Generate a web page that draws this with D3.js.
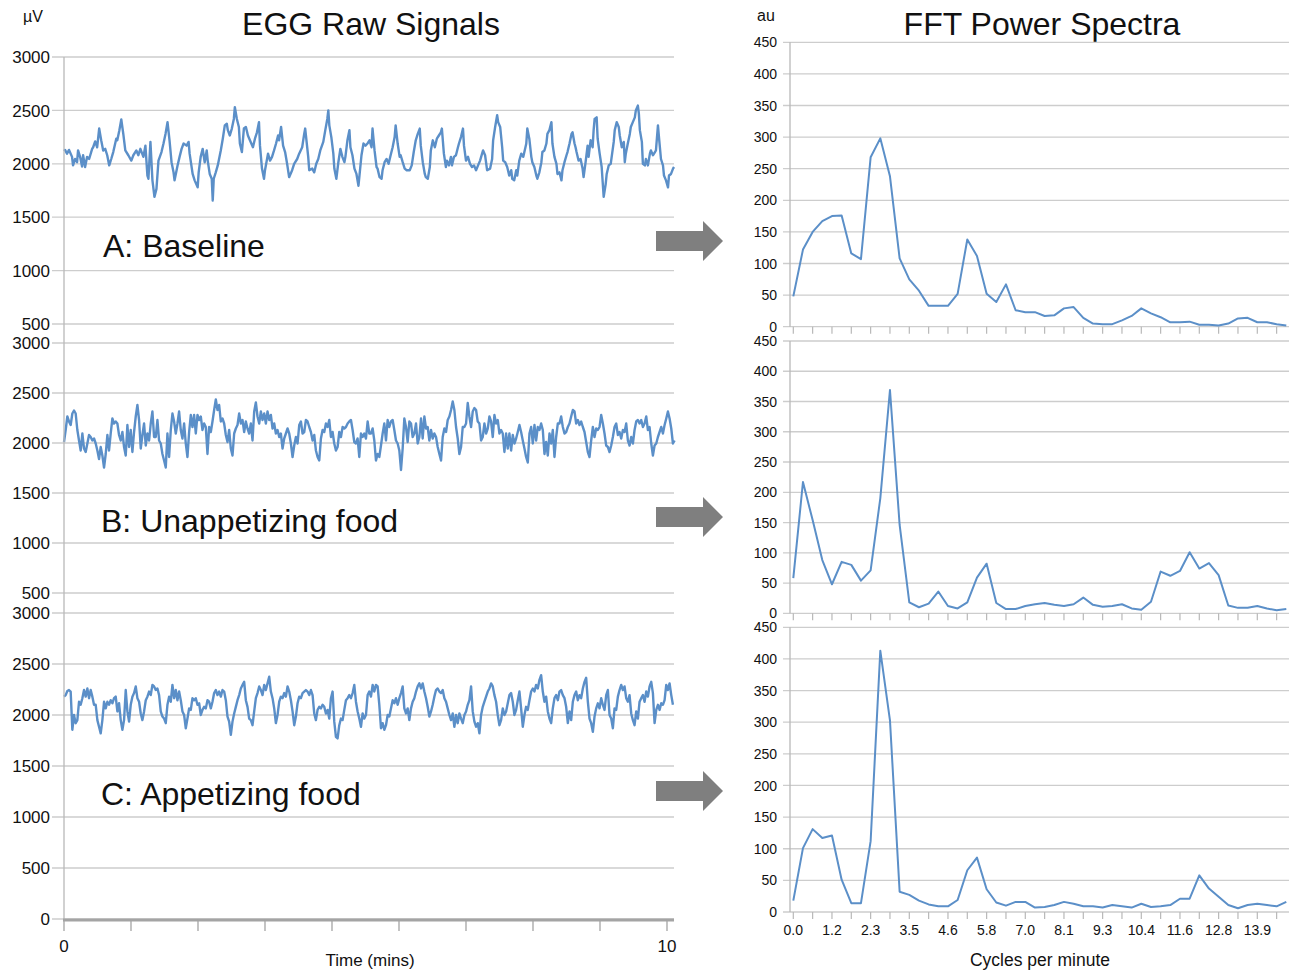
<!DOCTYPE html>
<html><head><meta charset="utf-8">
<script src="https://cdn.jsdelivr.net/npm/d3@7"></script>
<style>
body{margin:0;background:#fff}
svg{display:block}
text{font-family:"Liberation Sans",Arial,sans-serif;fill:#111}
</style>
</head><body>
<svg id="c" width="1289" height="972"></svg>
<script>
// ---------------- DATA ----------------
const titles = ["EGG Raw Signals", "FFT Power Spectra"];
const panelLabels = ["A: Baseline", "B: Unappetizing food", "C: Appetizing food"];
const rawYTicksAB = [500, 1000, 1500, 2000, 2500, 3000];
const rawYTicksC = [0, 500, 1000, 1500, 2000, 2500, 3000];
const timeTickLabels = ["0", "10"];          // minutes (0 and 10)
const fftYTicks = [0, 50, 100, 150, 200, 250, 300, 350, 400, 450];
const fftTickLabels = ["0.0","1.2","2.3","3.5","4.6","5.8","7.0","8.1","9.3","10.4","11.6","12.8","13.9"];
const sampleIntervalBC = 1.66; // seconds between read samples (B, C)

// A: [seconds, µV]
const rawA = [[0,2120],[1,2130],[3,2095],[5,2130],[8,2065],[9,1985],[11,2045],[13,2015],[14,2125],[16,2065],[18,1975],[19,2080],[21,1970],[23,2065],[25,2045],[28,2140],[29,2155],[31,2210],[33,2155],[35,2330],[37,2220],[39,2125],[41,2140],[43,2080],[45,1985],[47,2045],[49,2110],[52,2235],[53,2220],[55,2310],[57,2415],[59,2280],[61,2125],[64,2080],[67,2030],[69,2080],[72,2125],[74,2080],[76,2140],[79,2065],[81,2170],[83,1890],[84,1860],[86,2205],[88,1845],[90,1690],[92,1765],[94,2030],[97,2110],[99,2190],[101,2280],[103,2390],[105,2220],[107,2015],[109,1920],[110,1845],[113,1985],[115,2065],[117,2140],[119,2190],[122,2170],[124,2205],[125,2095],[128,1905],[130,1845],[133,1780],[134,1920],[136,2065],[138,2140],[140,2015],[142,2125],[143,2030],[145,1905],[147,1860],[148,1655],[149,1860],[151,1920],[153,1985],[156,2125],[158,2235],[160,2360],[162,2375],[163,2315],[165,2265],[167,2330],[169,2420],[170,2530],[172,2420],[174,2345],[175,2190],[177,2110],[179,2330],[181,2345],[183,2265],[185,2220],[188,2155],[190,2235],[192,2295],[194,2390],[195,2170],[197,1955],[199,1860],[200,1940],[203,2095],[205,2030],[207,2065],[209,2125],[211,2190],[213,2265],[214,2220],[216,2345],[218,2170],[220,2110],[222,2000],[224,1875],[227,1940],[229,2000],[232,2045],[234,2095],[237,2155],[239,2280],[240,2330],[243,2065],[244,1940],[247,1955],[249,1920],[251,2000],[253,2045],[255,2125],[258,2205],[260,2315],[262,2420],[263,2500],[264,2360],[266,2250],[268,2095],[269,1955],[271,1860],[273,2015],[275,2140],[277,2065],[279,2015],[280,2065],[282,2220],[284,2315],[285,2155],[287,2080],[289,1955],[291,1905],[293,1795],[294,1890],[296,2080],[298,2190],[300,2170],
[302,2190],[304,2220],[306,2155],[307,2330],[309,2125],[311,1970],[312,1955],[314,1875],[316,1860],[317,1940],[319,2015],[321,2045],[323,2000],[325,2080],[327,2155],[329,2250],[330,2360],[332,2190],[334,2065],[335,2080],[337,2015],[339,1955],[341,1940],[344,1940],[346,1985],[348,2110],[350,2220],[352,2280],[354,2330],[355,2170],[357,2015],[359,1905],[360,1875],[362,1860],[364,1970],[365,2125],[367,2220],[369,2155],[371,2235],[373,2265],[375,2295],[376,2330],[378,2095],[380,1970],[381,2030],[383,1985],[385,2065],[386,1985],[388,2065],[390,2080],[392,2155],[393,2190],[395,2250],[397,2330],[398,2170],[400,2030],[402,2065],[404,2000],[406,1970],[408,1985],[410,1940],[412,1985],[414,2030],[416,2095],[417,2125],[419,2080],[421,1940],[424,1955],[426,2045],[427,2220],[429,2345],[431,2455],[432,2390],[434,2345],[436,2155],[437,2030],[439,2015],[441,1970],[443,1890],[445,1940],[446,1860],[448,1845],[450,1940],[451,1890],[453,2030],[455,2095],[457,2065],[460,2190],[461,2330],[463,2235],[465,2065],[466,2015],[468,1970],[470,1890],[471,1860],[473,1920],[475,2015],[476,2110],[478,2125],[480,2190],[481,2280],[483,2315],[485,2390],[486,2190],[488,2065],[490,2000],[491,1905],[493,1920],[495,1845],[496,1940],[498,2015],[500,2080],[501,2110],[503,2190],[505,2280],[506,2295],[508,2190],[509,2155],[510,2110],[512,2030],[514,2045],[516,1955],[517,1875],[519,2015],[521,2170],[522,2065],[524,2220],[526,2155],[527,2315],[528,2420],[530,2435],[531,2235],[533,2095],[535,1970],[536,1830],[537,1690],[539,1810],[540,1905],[542,1985],[544,2000],[547,2205],[548,2315],[550,2390],[552,2345],[553,2265],[555,2155],[557,2205],[558,2015],[559,2095],[561,2190],[563,2280],[564,2345],[566,2390],[568,2435],[569,2500],[571,2545],[572,2470],[573,2315],[575,2205],[576,2000],[578,1985],[579,2045],[581,1985],[583,2095],[584,2125],[586,2080],[588,2110],[589,2125],[591,2360],[592,2250],[594,2045],[596,1985],[597,1890],[599,1845],[601,1780],[602,1890],[604,1905],[606,1955],[607,1970]];

// B, C: µV at regular sample interval
const rawB = [2010,2130,2265,2215,2180,2295,2325,2295,2130,2025,1925,2095,1945,1910,1995,2080,2060,2025,2045,1995,1925,1840,1960,1875,1755,1890,2080,1925,2095,2245,2195,2215,2195,2080,2025,2110,1960,1875,2180,1960,2130,1910,2110,2265,2380,2230,1945,2080,2195,1975,2095,2025,2195,2315,2060,2060,2230,2025,
1995,1890,1825,1755,2095,1860,2130,2295,2215,2095,2195,2315,2130,2045,2195,1995,1860,2110,2280,2160,2280,2095,2280,2230,2265,2130,2195,2160,1890,2160,2110,2215,2330,2435,2330,2380,2215,2245,2195,2080,2010,2130,1945,1875,2095,2145,2180,2295,2195,2230,2110,2215,2145,2095,2195,2025,2315,2405,2265,2195,2315,2230,2295,2195,2315,2230,2280,2145,2195,2095,2130,2060,2095,1945,2045,2095,2145,2095,1995,1860,1975,2060,1995,2180,2215,2095,2110,2230,2215,2160,2110,2025,2080,1925,1860,1825,2045,2130,2110,2195,2160,2230,2060,2110,1995,1925,1960,2110,2060,2160,2145,2160,2195,2215,2230,2130,2010,1995,2045,1860,2095,2060,2095,2045,2215,2095,
2095,2145,2025,1825,1890,1860,1975,2095,2195,2025,2230,2160,2215,2230,2130,2025,1995,1925,1730,1945,2245,2160,2010,2215,2195,2060,2095,2195,1995,2060,2245,2045,2265,2145,2160,2025,2130,2045,2095,2060,1960,1890,1825,2060,2145,2110,2230,2265,2330,2415,2330,2160,2045,1890,1960,2160,2160,2195,2400,2265,2160,2315,2350,2330,2215,2195,2025,2060,2195,2095,2145,2265,2215,2060,2280,2195,2230,2095,2130,2095,1910,2095,1945,2095,1925,2080,1995,2045,2110,2180,2110,2025,1945,1860,1805,2095,2160,1995,2180,2025,2160,2130,2195,2130,1890,2010,1875,2095,1995,2130,1860,2060,2195,2195,2265,2160,2095,2110,2160,2195,2265,2330,2315,2195,2230,2180,2215,2160,2110,2010,1910,1860,2025,2160,2060,2145,2130,2160,2280,2195,2095,1975,1960,1910,1975,2060,2160,2195,2080,2110,2045,2130,2110,2195,2025,1975,2060,1995,2130,2215,2230,2195,2230,2160,2195,2265,2130,2160,1995,1875,1975,1995,2060,2110,2160,2095,2180,2245,2315,2245,2145,1995,2025];

const rawC = [2180,2195,2235,2245,2230,1855,2000,1920,1950,2130,2100,2165,2245,2180,2260,2165,2245,2180,2100,2100,1950,1885,1820,1950,2130,2065,2130,2100,2145,2115,2165,2180,2035,2115,1950,1855,1950,2245,2035,1935,2100,2180,2215,2280,2165,2130,2015,1950,2035,2145,2180,2230,2195,2295,2280,2245,2260,2195,2035,1985,1965,1920,2100,2180,2130,2295,2165,2245,2145,2230,2145,2035,2000,1870,1965,2065,2050,2165,2145,2165,2100,2115,2000,2050,2080,2065,2145,2130,2065,2130,2215,2245,2195,2230,2180,2245,2230,2145,1985,1935,1805,1935,2015,2080,2145,2195,2260,2295,2325,2145,2080,1965,1950,1900,2035,2165,2215,2280,2245,2195,2295,2245,2310,2375,2230,2165,2065,1920,2000,2130,2180,2165,2215,2180,2280,2230,2145,2035,1900,1985,2115,2180,2165,2215,2230,2245,2230,2195,2245,2195,2015,1950,2050,2080,2065,2100,2080,2015,2050,1965,2165,2230,1935,1785,1770,1900,1965,1950,2050,2145,2165,2195,2165,2215,2295,2130,2035,1965,1885,2015,1965,2000,2195,
2230,2180,2295,2230,2295,2280,2100,1870,1920,1855,1900,2000,1985,2065,2145,2115,2165,2100,2165,2215,2280,2065,2015,2065,1950,2065,2130,2165,2230,2280,2310,2260,2310,2230,2165,2080,1985,2035,2100,2180,2245,2260,2230,2215,2245,2165,2130,2065,2000,1950,2015,1885,2000,1920,2015,1965,1920,2000,2035,2100,2145,2280,2035,1935,1885,1920,1820,2000,2080,2130,2180,2230,2260,2310,2280,2195,2130,2000,1900,1950,2065,2000,2035,2115,2195,2215,2130,2000,2050,2145,2230,2065,1885,2000,2080,2050,2145,2230,2260,2230,2295,2260,2345,2390,2230,2130,2180,2035,1965,1920,2065,2165,2195,2145,2230,2245,2195,2165,2080,1920,2035,1950,2130,2195,2230,2145,2195,2165,2260,2325,2365,2130,1965,1920,1835,1985,2065,2115,2065,2165,2100,2050,2195,2245,2000,1965,1870,2065,2050,2180,2245,2295,2245,2280,2165,2130,2195,2015,1950,1900,2035,1965,2130,2165,2195,2130,2230,2180,2280,2325,2215,1920,2050,2100,2050,2115,2100,2145,2295,2245,2310,2195,2100];

// FFT power (au), 52 frequency bins
const fftA = [48,122,150,167,175,176,116,107,268,298,238,108,75,57,33,33,33,52,138,112,52,39,67,26,23,23,17,18,29,31,14,5,4,4,10,17,29,21,15,7,7,8,3,3,2,5,13,14,7,7,4,2];
const fftB = [58,217,154,88,48,85,80,54,71,190,369,146,18,10,16,36,12,8,18,59,82,17,7,7,12,15,17,14,12,15,26,14,11,12,15,8,6,19,69,62,70,101,74,83,63,13,9,9,12,8,5,7];
const fftC = [18,101,131,117,121,51,14,14,112,413,303,32,27,18,12,9,9,19,66,86,36,15,10,16,16,7,8,11,16,13,9,9,7,11,9,7,13,8,9,11,21,21,58,37,24,11,6,11,13,11,9,16];

// ---------------- DRAW ----------------
const svg = d3.select('#c');
const LINE = '#5b8fc8', GRID = '#cdcdcd', AXIS = '#b8b8b8', ARROW = '#7f7f7f';

// Titles
svg.append('text').attr('x', 371).attr('y', 35).attr('text-anchor','middle').style('font-size','32px').text(titles[0]);
svg.append('text').attr('x', 1042).attr('y', 35).attr('text-anchor','middle').style('font-size','32px').text(titles[1]);
svg.append('text').attr('x', 33).attr('y', 22).attr('text-anchor','middle').style('font-size','16px').text('\u00b5V');
svg.append('text').attr('x', 766).attr('y', 21).attr('text-anchor','middle').style('font-size','16px').text('au');

// ---- Left raw signal panels ----
const xT = d3.scaleLinear().domain([0, 600]).range([64, 667]);
const toPairs = (arr) => arr.map((v, i) => [i * sampleIntervalBC, v]);
const leftPanels = [
  {data: rawA, y: d3.scaleLinear().domain([500,3000]).range([324,57]), ticks: rawYTicksAB, labelY: 257, arrowY: 241},
  {data: toPairs(rawB), y: d3.scaleLinear().domain([500,3000]).range([593,343]), ticks: rawYTicksAB, labelY: 532, arrowY: 517},
  {data: toPairs(rawC), y: d3.scaleLinear().domain([0,3000]).range([919,613]), ticks: rawYTicksC, labelY: 805, arrowY: 791}
];

leftPanels.forEach((p, k) => {
  const g = svg.append('g');
  g.selectAll('line.grid').data(p.ticks).enter().append('line')
    .attr('x1', 52).attr('x2', 674)
    .attr('y1', d => p.y(d)).attr('y2', d => p.y(d))
    .attr('stroke', GRID).attr('stroke-width', 1.3);
  g.selectAll('text.tl').data(p.ticks).enter().append('text')
    .attr('x', 50).attr('y', d => p.y(d)).attr('dy', '0.36em')
    .attr('text-anchor', 'end').style('font-size', '17px').text(d => d);
  const line = d3.line().x(d => xT(d[0])).y(d => p.y(d[1]));
  g.append('path').datum(p.data).attr('d', line)
    .attr('fill', 'none').attr('stroke', LINE).attr('stroke-width', 2.4).attr('stroke-linejoin','round');
  g.append('text').attr('x', k === 0 ? 103 : 101).attr('y', p.labelY)
    .style('font-size', '32px').text(panelLabels[k]);
  // block arrow
  const ay = p.arrowY;
  const pts = [[656, ay-10],[703, ay-10],[703, ay-20],[723, ay],[703, ay+20],[703, ay+10],[656, ay+10]];
  g.append('polygon').attr('points', pts.map(q => q.join(',')).join(' ')).attr('fill', ARROW);
});
// left vertical axis
svg.append('line').attr('x1', 64).attr('x2', 64).attr('y1', 57).attr('y2', 920).attr('stroke', AXIS).attr('stroke-width', 1.3);
// bottom time axis
const yC = leftPanels[2].y;
svg.append('line').attr('x1', 63).attr('x2', 674).attr('y1', yC(0)+1).attr('y2', yC(0)+1).attr('stroke', '#a4a4a4').attr('stroke-width', 3);
const timeTicks = d3.range(10).map(i => i * 600 / 9);
svg.selectAll('line.tt').data(timeTicks).enter().append('line')
  .attr('x1', d => xT(d)).attr('x2', d => xT(d)).attr('y1', yC(0)).attr('y2', yC(0) + 12)
  .attr('stroke', '#a4a4a4').attr('stroke-width', 1.3);
svg.append('text').attr('x', xT(0)).attr('y', 952).attr('text-anchor','middle').style('font-size','17px').text(timeTickLabels[0]);
svg.append('text').attr('x', xT(600)).attr('y', 952).attr('text-anchor','middle').style('font-size','17px').text(timeTickLabels[1]);
svg.append('text').attr('x', 370).attr('y', 966).attr('text-anchor','middle').style('font-size','17px').text('Time (mins)');

// ---- Right FFT panels ----
const xF = d3.scaleLinear().domain([0, 51]).range([793.3, 1286.3]);
const rightPanels = [
  {data: fftA, y: d3.scaleLinear().domain([0,450]).range([326.7, 42.3])},
  {data: fftB, y: d3.scaleLinear().domain([0,450]).range([613.3, 341])},
  {data: fftC, y: d3.scaleLinear().domain([0,450]).range([912, 627.3])}
];
const fftTickIdx = d3.range(0, 51, 2);
rightPanels.forEach((p, k) => {
  const g = svg.append('g');
  g.selectAll('line.grid').data(fftYTicks).enter().append('line')
    .attr('x1', 783).attr('x2', 1289)
    .attr('y1', d => p.y(d)).attr('y2', d => p.y(d))
    .attr('stroke', GRID).attr('stroke-width', 1.3);
  g.selectAll('text.tl').data(fftYTicks).enter().append('text')
    .attr('x', 777).attr('y', d => p.y(d)).attr('dy', '0.36em')
    .attr('text-anchor', 'end').style('font-size', '14px').text(d => d);
  g.append('line').attr('x1', 790).attr('x2', 790).attr('y1', p.y(450)).attr('y2', p.y(0))
    .attr('stroke', AXIS).attr('stroke-width', 1.3);
  g.selectAll('line.tk').data(fftTickIdx).enter().append('line')
    .attr('x1', d => xF(d)).attr('x2', d => xF(d)).attr('y1', p.y(0)).attr('y2', p.y(0) + 7)
    .attr('stroke', AXIS).attr('stroke-width', 1.2);
  const line = d3.line().x((d, i) => xF(i)).y(d => p.y(d));
  g.append('path').datum(p.data).attr('d', line)
    .attr('fill', 'none').attr('stroke', LINE).attr('stroke-width', 2).attr('stroke-linejoin','round');
  if (k === 2) {
    g.selectAll('text.xl').data(fftTickLabels).enter().append('text')
      .attr('x', (d, i) => xF(i * 4)).attr('y', 935)
      .attr('text-anchor', 'middle').style('font-size', '14px').text(d => d);
  }
});
svg.append('text').attr('x', 1040).attr('y', 966).attr('text-anchor','middle').style('font-size','17.5px').text('Cycles per minute');
</script>
</body></html>
